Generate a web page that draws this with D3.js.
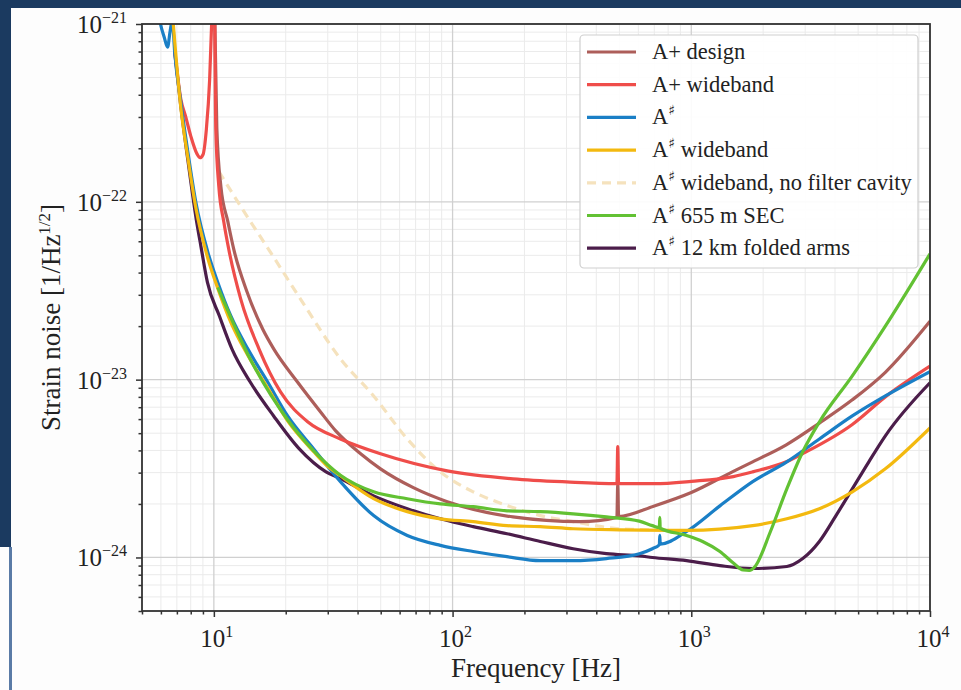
<!DOCTYPE html>
<html><head><meta charset="utf-8">
<script src="https://cdn.jsdelivr.net/npm/d3@7"></script>
<style>html,body{margin:0;padding:0;background:#fff;} svg{display:block;}</style>
</head><body>
<svg id="chart" width="961" height="690"></svg>
<script>
// ---------- data (frequency [Hz], strain noise [1/Hz^1/2]) ----------
const seriesLabels = ["A+ design", "A+ wideband", "A\u266F", "A\u266F wideband",
  "A\u266F wideband, no filter cavity", "A\u266F 655 m SEC", "A\u266F 12 km folded arms"];

const aplusDesign = [[10.0,2e-21],[10.29,2.6e-22],[10.7,1.22e-22],[11.44,7.76e-23],[12.12,5.4e-23],
  [13.74,3.14e-23],[16.03,1.92e-23],[17.81,1.49e-23],[22.4,9.7e-24],[28.0,6.58e-24],[32.4,5.15e-24],
  [41.2,3.83e-24],[49.9,3.15e-24],[68.5,2.47e-24],[95,2.06e-24],[179,1.69e-24],[342,1.59e-24],[488,1.68e-24],
  [492,2.6e-24],[496,1.7e-24],[700,1.95e-24],[1000,2.32e-24],[1500,3.05e-24],[1808,3.45e-24],
  [2500,4.3e-24],[3440,5.7e-24],[4727,7.7e-24],[6500,1.1e-23],[10000,2.13e-23]];

const aplusWideband = [[6.85,7.2e-22],[7.28,3.75e-22],[7.6,3.05e-22],[8,2.35e-22],[8.5,1.86e-22],[8.75,1.77e-22],
  [9,1.84e-22],[9.3,2.55e-22],[9.6,4.85e-22],[9.8,1.05e-21],[10,3e-21],[10.19,2.55e-22],[10.49,1.22e-22],
  [11.0,7.76e-23],[11.55,5.4e-23],[12.97,2.83e-23],[15.45,1.49e-23],[19.05,8.5e-24],[24.7,5.8e-24],
  [33.9,4.64e-24],[49.9,3.83e-24],[95,3.07e-24],[179,2.77e-24],[300,2.66e-24],[488,2.6e-24],
  [492,4.2e-24],[496,2.6e-24],[700,2.6e-24],[1000,2.68e-24],[1500,2.85e-24],[1808,3.03e-24],
  [2500,3.45e-24],[3000,3.9e-24],[4727,5.6e-24],[6500,8.0e-24],[10000,1.19e-23]];

const asharp = [[5.5,3e-21],[5.9,1.1e-21],[6.2,8.4e-22],[6.4,7.4e-22],[6.55,9.0e-22],[6.7,1.05e-21],
  [6.85,7.0e-22],[7.28,3.6e-22],[7.79,1.89e-22],[8.41,9.9e-23],[9.44,5.2e-23],[10.39,3.52e-23],
  [11.78,2.28e-23],[13.87,1.49e-23],[16.81,9.7e-24],[20.37,6.25e-24],[26.2,4.08e-24],[33.9,2.67e-24],
  [46.7,1.72e-24],[64.6,1.33e-24],[88.9,1.17e-24],[122,1.08e-24],[169,1.01e-24],[233,9.6e-25],
  [320,9.6e-25],[441,9.86e-25],[606,1.05e-24],[687,1.12e-24],[735,1.18e-24],[738,1.33e-24],[741,1.19e-24],
  [956,1.4e-24],[1318,1.95e-24],[1808,2.67e-24],[2513,3.45e-24],[3440,4.64e-24],[4727,6.25e-24],
  [6501,8.1e-24],[10000,1.11e-23]];

const asharpWideband = [[6.6,1.5e-21],[7.28,3.33e-22],[7.79,1.75e-22],[8.41,9.2e-23],[9.44,4.8e-23],
  [10.39,3.26e-23],[11.78,2.1e-23],[13.87,1.37e-23],[16.81,8.97e-24],[20.37,5.86e-24],[26.2,3.93e-24],
  [29.5,3.32e-24],[33.9,2.88e-24],[46.7,2.14e-24],[64.6,1.81e-24],[88.9,1.65e-24],[122,1.59e-24],
  [169,1.51e-24],[233,1.49e-24],[320,1.45e-24],[500,1.43e-24],[956,1.42e-24],[1808,1.51e-24],
  [2513,1.65e-24],[3440,1.88e-24],[4727,2.34e-24],[6501,3.15e-24],[10000,5.35e-24]];

const asharpNoFC = [[10.49,1.48e-22],[12.97,9.4e-23],[17.81,4.88e-23],[23.1,2.83e-23],[33.9,1.31e-23],
  [46.7,8.1e-24],[64.6,4.64e-24],[88.9,3.03e-24],[122,2.34e-24],[169,1.96e-24],[233,1.72e-24],
  [320,1.59e-24],[500,1.45e-24],[700,1.43e-24]];

const asharpSEC = [[10.39,3.3e-23],[13.87,1.39e-23],[20.37,5.95e-24],[26.2,3.98e-24],[33.9,2.9e-24],
  [46.7,2.34e-24],[64.6,2.14e-24],[88.9,2.0e-24],[122,1.93e-24],[169,1.83e-24],[233,1.81e-24],
  [320,1.76e-24],[441,1.69e-24],[606,1.6e-24],[687,1.51e-24],[735,1.47e-24],[738,1.68e-24],[741,1.46e-24],
  [956,1.33e-24],[1115,1.23e-24],[1318,1.08e-24],[1500,9.3e-25],[1650,8.5e-25],[1750,8.45e-25],
  [1850,8.9e-25],[2146,1.4e-24],[2513,2.43e-24],[2930,3.93e-24],[3440,5.78e-24],[4727,1.05e-23],
  [6501,2.0e-23],[10000,5.1e-23]];

const asharp12km = [[6.85,7.0e-22],[7.28,3.4e-22],[7.79,1.7e-22],[8.41,8.2e-23],[8.83,5.6e-23],[9.4,3.52e-23],
  [10.55,2.28e-23],[11.9,1.49e-23],[14.2,9.7e-24],[17.8,6.25e-24],[22.8,4.08e-24],[29.5,3.03e-24],[34,2.77e-24],
  [46.7,2.22e-24],[64.6,1.88e-24],[88.9,1.65e-24],[122,1.49e-24],[169,1.36e-24],[233,1.23e-24],
  [320,1.12e-24],[441,1.05e-24],[606,1.02e-24],[687,1.0e-24],[956,9.6e-25],[1318,9.0e-25],
  [1808,8.67e-25],[2513,8.9e-25],[2930,9.86e-25],[3440,1.23e-24],[4038,1.72e-24],[4727,2.43e-24],
  [5543,3.45e-24],[6501,4.83e-24],[10000,9.6e-24]];

const xMajorTicks = [10, 100, 1000, 10000];
const xTickLabels = ["1", "2", "3", "4"];
const yMajorTicks = [1e-21, 1e-22, 1e-23, 1e-24];
const yTickLabels = ["\u221221", "\u221222", "\u221223", "\u221224"];

// ---------- layout ----------
const W = 961, H = 690;
const L = 142, R = 930, T = 24, B = 611;
const svg = d3.select("#chart");
const font = "'Liberation Serif','Times New Roman',serif";

// photo / slide background
svg.append("rect").attr("x",0).attr("y",0).attr("width",W).attr("height",H).attr("fill","#fdfdfd");
svg.append("rect").attr("x",0).attr("y",0).attr("width",W).attr("height",8).attr("fill","#1b3a60");
svg.append("rect").attr("x",0).attr("y",0).attr("width",11).attr("height",547).attr("fill","#1b3a60");
svg.append("rect").attr("x",9).attr("y",547).attr("width",3).attr("height",H-547).attr("fill","#5a7ba6");

const x = d3.scaleLog().domain([5, 1e4]).range([L, R]);
const y = d3.scaleLog().domain([5e-25, 1e-21]).range([B, T]);

svg.append("rect").attr("x",L).attr("y",T).attr("width",R-L).attr("height",B-T).attr("fill","#ffffff");

// grid
const xMinor = [];
for (let d = 1; d <= 1000; d *= 10) for (let k = 2; k <= 9; k++) { const v = k*d; if (v >= 5 && v < 1e4) xMinor.push(v); }
const yMinor = [];
for (let e = -25; e <= -22; e++) for (let k = 2; k <= 9; k++) { const v = k*Math.pow(10,e); if (v >= 5e-25 && v < 1e-21) yMinor.push(v); }

const grid = svg.append("g");
grid.selectAll(".gxm").data(xMinor).join("line").attr("x1",d=>x(d)).attr("x2",d=>x(d)).attr("y1",T).attr("y2",B)
  .attr("stroke","#ebebeb").attr("stroke-width",1);
grid.selectAll(".gym").data(yMinor).join("line").attr("y1",d=>y(d)).attr("y2",d=>y(d)).attr("x1",L).attr("x2",R)
  .attr("stroke","#ebebeb").attr("stroke-width",1);
grid.selectAll(".gxM").data(xMajorTicks).join("line").attr("x1",d=>x(d)).attr("x2",d=>x(d)).attr("y1",T).attr("y2",B)
  .attr("stroke","#d0d0d0").attr("stroke-width",1.3);
grid.selectAll(".gyM").data(yMajorTicks).join("line").attr("y1",d=>y(d)).attr("y2",d=>y(d)).attr("x1",L).attr("x2",R)
  .attr("stroke","#d0d0d0").attr("stroke-width",1.3);

// curves
svg.append("defs").append("clipPath").attr("id","clip").append("rect")
  .attr("x",L).attr("y",T).attr("width",R-L).attr("height",B-T);
const line = d3.line().x(d=>x(d[0])).y(d=>y(d[1])).curve(d3.curveMonotoneX);
const series = [
  {data: asharpNoFC, color: "#f5e2bd", dash: "9,6", label: seriesLabels[4]},
  {data: asharp12km, color: "#4b1d4a", label: seriesLabels[6]},
  {data: aplusDesign, color: "#ad5e5a", label: seriesLabels[0]},
  {data: aplusWideband, color: "#ef4d4a", label: seriesLabels[1]},
  {data: asharp, color: "#1a7fc6", label: seriesLabels[2]},
  {data: asharpWideband, color: "#f3b90f", label: seriesLabels[3]},
  {data: asharpSEC, color: "#62c133", label: seriesLabels[5]},
];
const cg = svg.append("g").attr("clip-path","url(#clip)");
series.forEach(s => {
  cg.append("path").datum(s.data).attr("d", line).attr("fill","none").attr("stroke", s.color)
    .attr("stroke-width", 3.2).attr("stroke-linejoin","round").attr("stroke-dasharray", s.dash || null);
});

// axes (spines + ticks)
const xAxisG = svg.append("g").attr("transform",`translate(0,${B})`)
  .call(d3.axisBottom(x).tickValues(xMajorTicks).tickSize(6).tickFormat(""));
const xAxisMinorG = svg.append("g").attr("transform",`translate(0,${B})`)
  .call(d3.axisBottom(x).tickValues(xMinor).tickSize(3.5).tickFormat(""));
const yAxisG = svg.append("g").attr("transform",`translate(${L},0)`)
  .call(d3.axisLeft(y).tickValues(yMajorTicks).tickSize(6).tickFormat(""));
const yAxisMinorG = svg.append("g").attr("transform",`translate(${L},0)`)
  .call(d3.axisLeft(y).tickValues(yMinor).tickSize(3.5).tickFormat(""));
[xAxisG, xAxisMinorG, yAxisG, yAxisMinorG].forEach(g => {
  g.select(".domain").remove();
  g.selectAll(".tick line").attr("stroke","#333").attr("stroke-width",1.5);
});
svg.append("rect").attr("x",L).attr("y",T).attr("width",R-L).attr("height",B-T)
  .attr("fill","none").attr("stroke","#333").attr("stroke-width",1.8);

// tick labels
const xt = svg.append("g").attr("font-family",font).attr("fill","#222");
xMajorTicks.forEach((v,i) => {
  const t = xt.append("text").attr("x", x(v)+3).attr("y", 647).attr("text-anchor","middle").attr("font-size",25);
  t.append("tspan").text("10");
  t.append("tspan").attr("font-size",16).attr("dy",-10).text(xTickLabels[i]);
});
const yt = svg.append("g").attr("font-family",font).attr("fill","#222");
yMajorTicks.forEach((v,i) => {
  const t = yt.append("text").attr("x", 127).attr("y", y(v)+9).attr("text-anchor","end").attr("font-size",25);
  t.append("tspan").text("10");
  t.append("tspan").attr("font-size",16).attr("dy",-10).text(yTickLabels[i]);
});

// axis labels
svg.append("text").attr("x",(L+R)/2).attr("y",677).attr("text-anchor","middle")
  .attr("font-family",font).attr("font-size",27).attr("fill","#222").text("Frequency [Hz]");
const yl = svg.append("text").attr("transform",`translate(60,${(T+B)/2}) rotate(-90)`).attr("text-anchor","middle")
  .attr("font-family",font).attr("font-size",27).attr("fill","#222");
yl.append("tspan").text("Strain noise [1/Hz");
yl.append("tspan").attr("font-size",17).attr("dy",-10).text("1/2");
yl.append("tspan").attr("dy",10).text("]");

// legend
const lg = svg.append("g");
lg.append("rect").attr("x",580).attr("y",35).attr("width",338).attr("height",233).attr("rx",4)
  .attr("fill","#ffffff").attr("fill-opacity",0.9).attr("stroke","#cfcfcf").attr("stroke-width",1.2);
const legendOrder = [seriesLabels[0], seriesLabels[1], seriesLabels[2], seriesLabels[3],
  seriesLabels[4], seriesLabels[5], seriesLabels[6]];
legendOrder.forEach((lab, i) => {
  const s = series.find(d => d.label === lab);
  const cy = 52 + i*32.7;
  lg.append("line").attr("x1",587).attr("x2",636).attr("y1",cy).attr("y2",cy).attr("stroke",s.color)
    .attr("stroke-width",3.2).attr("stroke-dasharray", s.dash || null);
  const t = lg.append("text").attr("x",652).attr("y",cy+7).attr("font-family",font).attr("font-size",22.5).attr("fill","#222");
  if (lab.startsWith("A\u266F")) {
    t.append("tspan").text("A");
    t.append("tspan").attr("font-size",14).attr("dy",-9).attr("font-family","'DejaVu Serif',serif").text("\u266F");
    const rest = lab.slice(2);
    if (rest) t.append("tspan").attr("dy",9).text(rest);
  } else {
    t.text(lab);
  }
});
</script>
</body></html>
